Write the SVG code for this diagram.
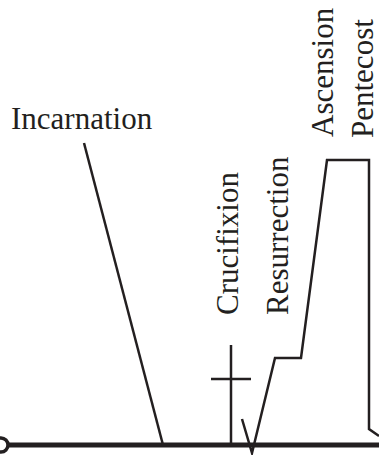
<svg xmlns="http://www.w3.org/2000/svg" width="379" height="455" viewBox="0 0 379 455">
<style>
.lbl{font-family:'Liberation Serif','Times New Roman',Times,serif;font-size:31px;fill:#231f20}
.ln{fill:none;stroke:#231f20;stroke-width:2.5;stroke-linejoin:miter}
.base{fill:none;stroke:#231f20;stroke-width:5}
</style>
<rect width="379" height="455" fill="#fff"/>
<g id="timeline">
<circle cx="1" cy="445" r="7" fill="none" stroke="#231f20" stroke-width="3.5"/>
<line class="base" x1="8" y1="445" x2="379" y2="445"/>
</g>
<g id="incarnation">
<text class="lbl" x="11" y="129">Incarnation</text>
</g>
<g id="crucifixion">
<text class="lbl" transform="translate(238,315) rotate(-90)">Crucifixion</text>
<line class="ln" x1="231" y1="345" x2="231" y2="445"/>
<line class="ln" x1="211" y1="379" x2="251" y2="379"/>
</g>
<g id="resurrection">
<text class="lbl" transform="translate(288,315) rotate(-90)">Resurrection</text>
</g>
<g id="ascension">
<text class="lbl" transform="translate(333,137) rotate(-90)">Ascension</text>
</g>
<g id="pentecost">
<text class="lbl" transform="translate(373,138) rotate(-90)">Pentecost</text>
</g>
<g id="connectors">
<line class="ln" x1="84" y1="143" x2="163" y2="445"/>
<polyline class="ln" points="242,419 252,453 275,358 301,358 327,160 369,160 369,429 379,436"/>
</g>
</svg>
